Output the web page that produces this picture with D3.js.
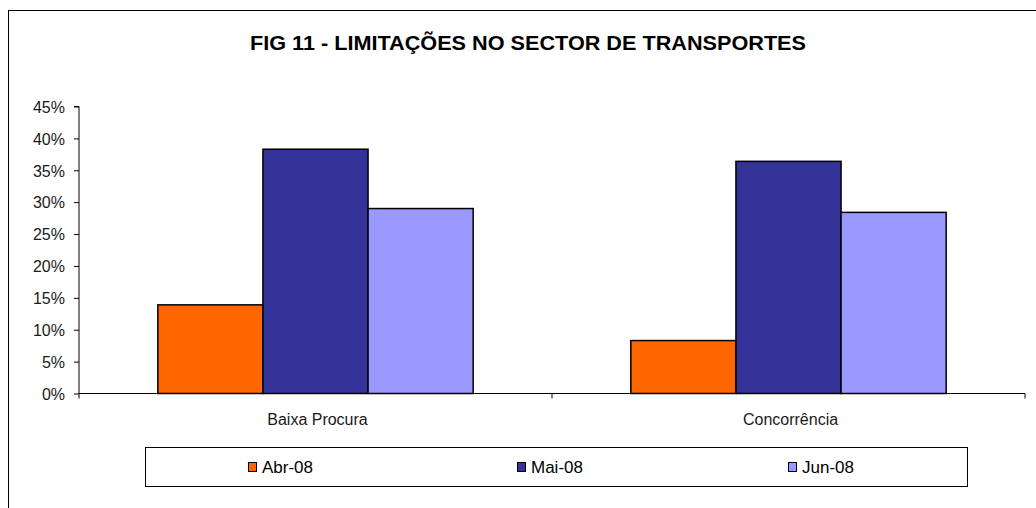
<!DOCTYPE html>
<html><head><meta charset="utf-8">
<script src="https://cdn.jsdelivr.net/npm/d3@7"></script>
<style>body{margin:0;background:#fff}svg{display:block}text{font-family:"Liberation Sans",Arial,sans-serif}</style>
</head><body>
<svg id="c" width="1036" height="508"></svg>
<script>
const categories = ["Baixa Procura", "Concorrência"];
const seriesNames = ["Abr-08", "Mai-08", "Jun-08"];
const abr08 = [13.9, 8.3];
const mai08 = [38.3, 36.4];
const jun08 = [29.0, 28.4];
const seriesValues = [abr08, mai08, jun08];
const colors = ["#FF6600", "#333399", "#9999FF"];
const yTicks = [0, 5, 10, 15, 20, 25, 30, 35, 40, 45];

const svg = d3.select("#c");
// outer frame
svg.append("rect").attr("x", 8.5).attr("y", 10.5).attr("width", 1040).attr("height", 510)
  .attr("fill", "#fff").attr("stroke", "#000").attr("stroke-width", 1);

svg.append("text").attr("x", 528).attr("y", 50).attr("text-anchor", "middle")
  .attr("font-size", 20.5).attr("font-weight", "bold").attr("textLength", 556).attr("lengthAdjust", "spacingAndGlyphs")
  .text("FIG 11 - LIMITAÇÕES  NO SECTOR DE  TRANSPORTES");

const pLeft = 79, pRight = 1025, pTop = 106.5, pBottom = 393.5;
const y = d3.scaleLinear().domain([0, 45]).range([pBottom, pTop]);
const x0 = d3.scaleBand().domain(categories).range([pLeft, pRight]).paddingInner(0).paddingOuter(0);
const x1 = d3.scaleBand().domain(seriesNames).range([0, x0.bandwidth()]).paddingInner(0).paddingOuter(0.75);

// bars
categories.forEach((cat, ci) => {
  seriesNames.forEach((s, si) => {
    const v = seriesValues[si][ci];
    svg.append("rect")
      .attr("x", x0(cat) + x1(s)).attr("y", y(v))
      .attr("width", x1.bandwidth()).attr("height", y(0) - y(v))
      .attr("fill", colors[si]).attr("stroke", "#000").attr("stroke-width", 1.5);
  });
});

// y axis
const yAxis = d3.axisLeft(y).tickValues(yTicks).tickSize(5).tickFormat(d => d + "%");
const gy = svg.append("g").attr("transform", `translate(${pLeft},0)`).call(yAxis);
gy.select(".domain").attr("stroke", "#000").attr("d", `M-5,${pTop}H0V${pBottom}`);
gy.selectAll(".tick line").attr("stroke", "#000");
gy.selectAll(".tick text").attr("font-size", 16).attr("fill", "#1a1a1a").attr("x", -14).attr("dy", "0.36em")
  .attr("font-family", "Liberation Sans, Arial, sans-serif");

// x axis
const xAxis = d3.axisBottom(x0).tickSize(0).tickFormat(d => d);
const gx = svg.append("g").attr("transform", `translate(0,${pBottom})`).call(xAxis);
gx.select(".domain").attr("stroke", "#000").attr("d", `M${pLeft},0H${pRight}`);
gx.selectAll(".tick text").attr("font-size", 16).attr("fill", "#1a1a1a").attr("y", 20).attr("dx", 2)
  .attr("font-family", "Liberation Sans, Arial, sans-serif");
// category separator ticks
[pLeft, pLeft + x0.bandwidth(), pRight].forEach(px => {
  gx.append("line").attr("x1", px).attr("x2", px).attr("y1", 0).attr("y2", 5).attr("stroke", "#000");
});

// legend
svg.append("rect").attr("x", 145.5).attr("y", 447.5).attr("width", 822).attr("height", 39)
  .attr("fill", "#fff").attr("stroke", "#000").attr("stroke-width", 1);
const legendX = [248, 517, 788];
seriesNames.forEach((s, i) => {
  svg.append("rect").attr("x", legendX[i] + 0.5).attr("y", 462.5).attr("width", 8).attr("height", 9)
    .attr("fill", colors[i]).attr("stroke", "#000").attr("stroke-width", 1);
  svg.append("text").attr("x", legendX[i] + 14).attr("y", 472.5).attr("font-size", 17).attr("fill", "#000").text(s);
});
</script>
</body></html>
